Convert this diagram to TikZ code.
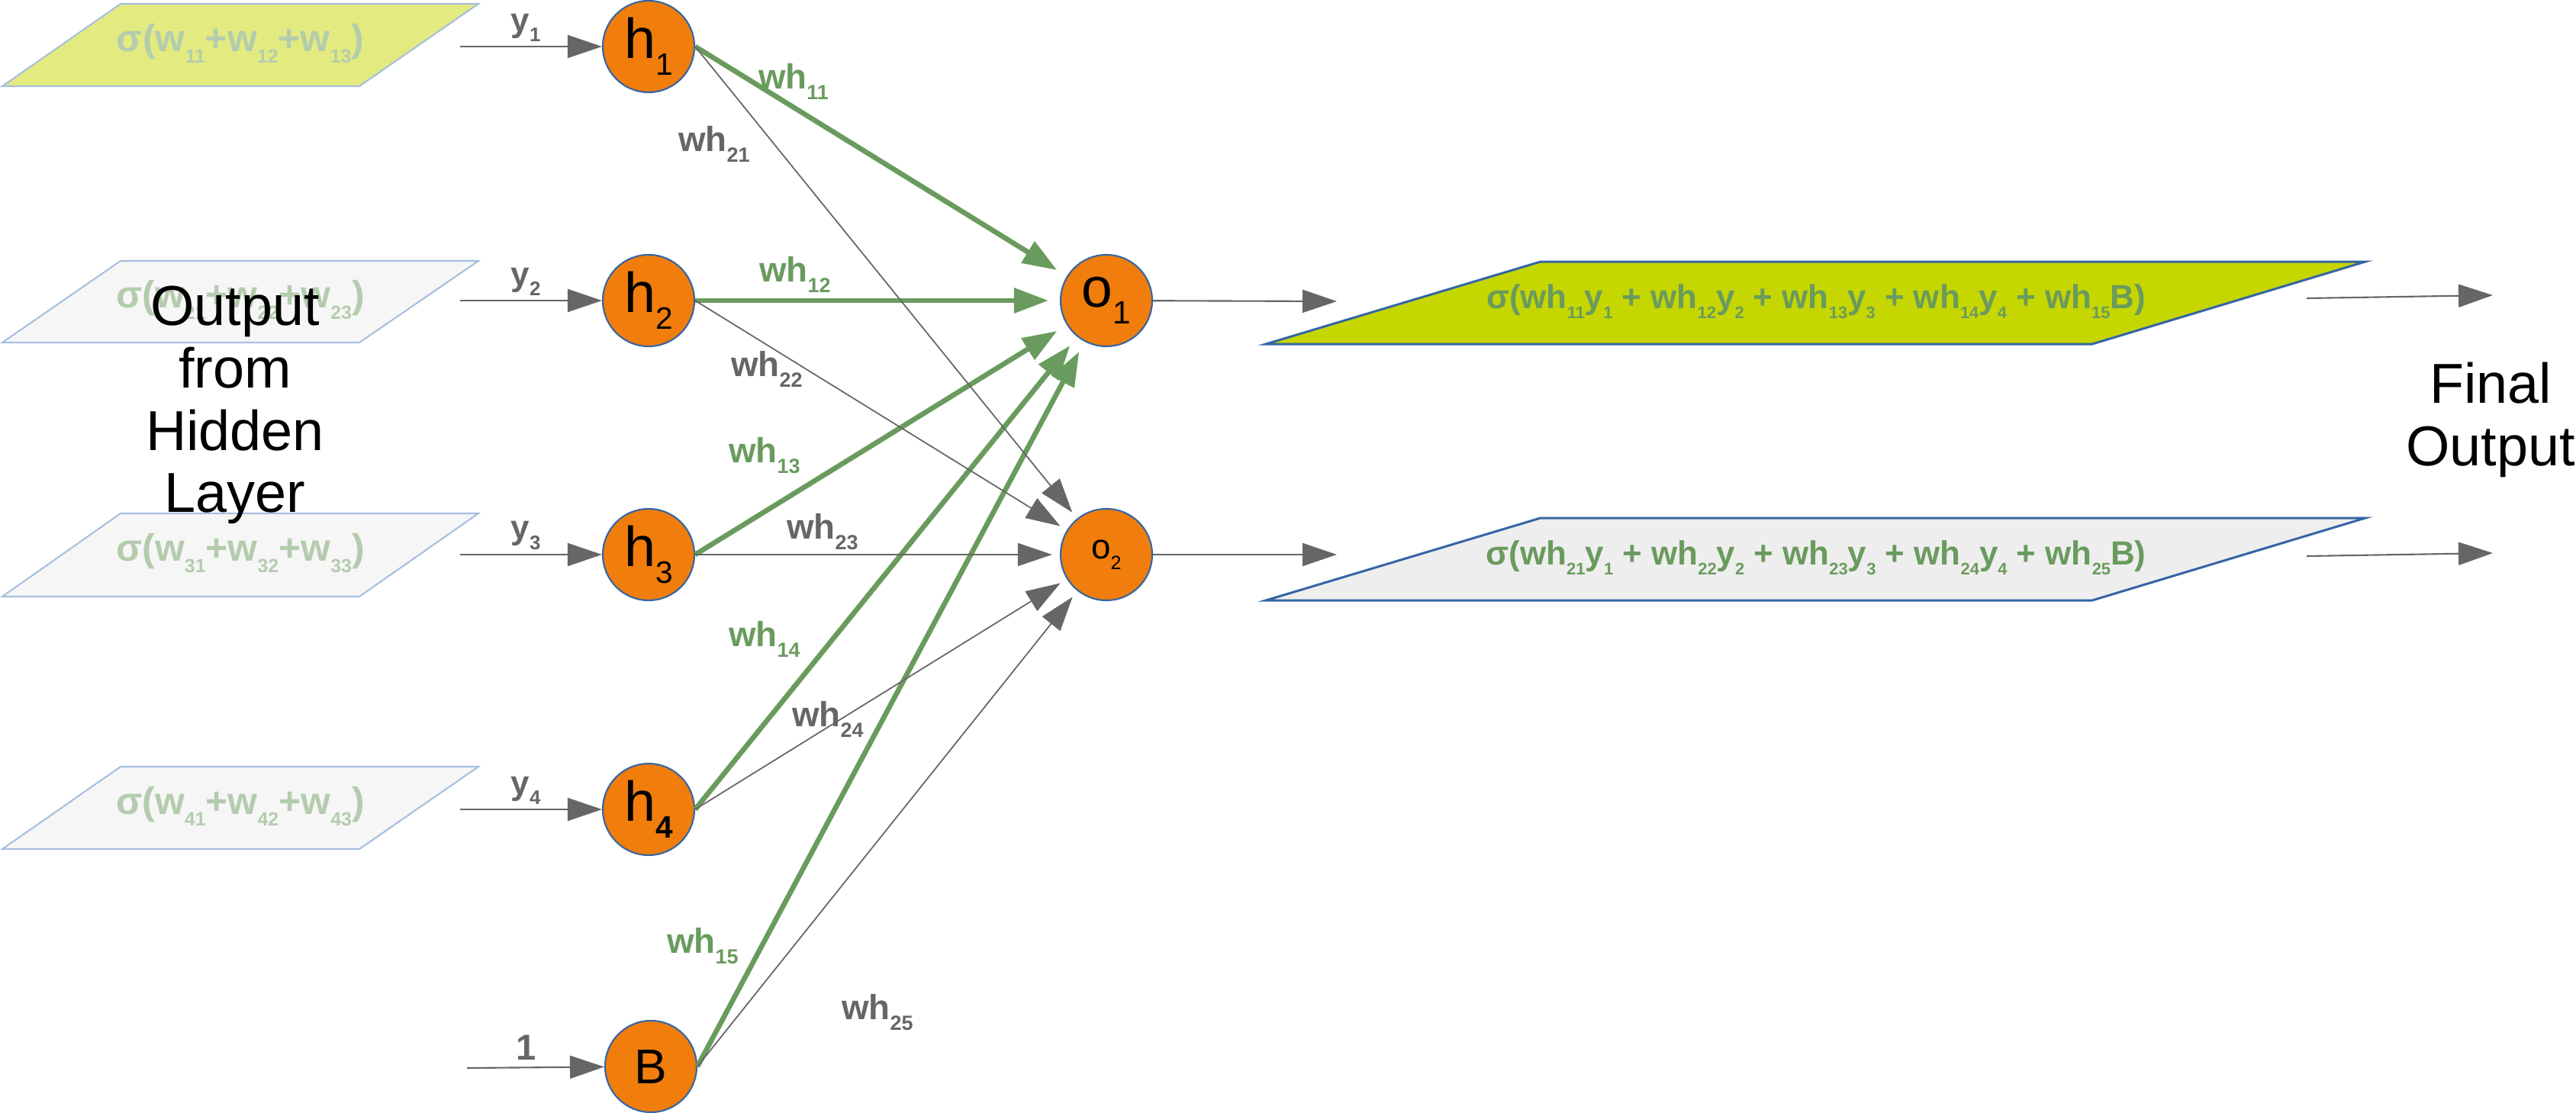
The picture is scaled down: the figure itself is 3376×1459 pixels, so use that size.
\documentclass[tikz,border=0pt]{standalone}
\usepackage{fontspec}
\setmainfont{Liberation Sans}
\usepackage{tikz}
\usepackage{xcolor}
\usetikzlibrary{arrows.meta}

\definecolor{nodeorange}{HTML}{F07D0C}
\definecolor{nodeblue}{HTML}{3465A4}
\definecolor{wgreen}{HTML}{6A9B5E}
\definecolor{wgray}{HTML}{666666}
\definecolor{fadegreen}{HTML}{B4CCAE}
\definecolor{paraline}{HTML}{A7C0DE}
\definecolor{parafill}{HTML}{F6F6F6}
\definecolor{yellowfill}{HTML}{E3EA80}
\definecolor{limefill}{HTML}{C5D600}
\definecolor{greyfill}{HTML}{EEEEEE}

\newcommand{\lsub}[2][0.55]{\raisebox{-0.3em}{\scalebox{#1}{#2}}}

\begin{document}
\begin{tikzpicture}[x=0.1mm, y=-0.1mm,
		neuron/.style={circle, draw=nodeblue, line width=0.6pt, fill=nodeorange, minimum size=12mm, inner sep=0pt},
		heavy/.style={wgreen, line width=1.9pt, -{Triangle[length=4.5mm, width=3.2mm]}, shorten >=1.5mm},
		light/.style={wgray, line width=0.5pt, -{Triangle[length=4.5mm, width=3mm]}, shorten >=1mm},
		inarrow/.style={wgray, line width=0.6pt, -{Triangle[length=4.5mm, width=3mm]}},
		lpara/.style={draw=paraline, line width=0.6pt},
		rpara/.style={draw=nodeblue, line width=0.85pt},
		bigtext/.style={align=center, font=\fontsize{21}{23.3}\selectfont, inner sep=0pt},
		wlabel/.style={font=\fontsize{13}{15}\selectfont\bfseries, inner sep=0pt},
		ylabel/.style={font=\fontsize{12.5}{14}\selectfont\bfseries, text=wgray, inner sep=0pt}]
	\useasboundingbox (0,0) rectangle (3376,1459);

	% outputs from the hidden layer
	\draw[lpara, fill=yellowfill] (158,5) -- (627,5) -- (471,113) -- (3,113) -- cycle;
	\draw[lpara, fill=parafill] (158,342) -- (627,342) -- (471,449) -- (3,449) -- cycle;
	\draw[lpara, fill=parafill] (158,673) -- (627,673) -- (471,782) -- (3,782) -- cycle;
	\draw[lpara, fill=parafill] (158,1005) -- (627,1005) -- (471,1113) -- (3,1113) -- cycle;
	\node[wlabel, font=\fontsize{14.2}{16}\selectfont\bfseries, text=fadegreen] (s1) at (315,57) {σ(w\lsub[0.5]{11}+w\lsub[0.5]{12}+w\lsub[0.5]{13})};
	\node[wlabel, font=\fontsize{14.2}{16}\selectfont\bfseries, text=fadegreen] (s2) at (315,393) {σ(w\lsub[0.5]{21}+w\lsub[0.5]{22}+w\lsub[0.5]{23})};
	\node[wlabel, font=\fontsize{14.2}{16}\selectfont\bfseries, text=fadegreen] (s3) at (315,725) {σ(w\lsub[0.5]{31}+w\lsub[0.5]{32}+w\lsub[0.5]{33})};
	\node[wlabel, font=\fontsize{14.2}{16}\selectfont\bfseries, text=fadegreen] (s4) at (315,1057) {σ(w\lsub[0.5]{41}+w\lsub[0.5]{42}+w\lsub[0.5]{43})};
	\node[bigtext] (hidlabel) at (308,531) {Output\\from\\Hidden\\Layer};

	% final outputs
	\draw[rpara, fill=limefill] (2019,343) -- (3100,343) -- (2742,451) -- (1659,451) -- cycle;
	\draw[rpara, fill=greyfill] (2019,679) -- (3100,679) -- (2742,787) -- (1659,787) -- cycle;
	\node[wlabel, font=\fontsize{12.5}{14}\selectfont\bfseries, text=wgreen] (f1) at (2380,395) {σ(wh\lsub[0.5]{11}y\lsub[0.5]{1} + wh\lsub[0.5]{12}y\lsub[0.5]{2} + wh\lsub[0.5]{13}y\lsub[0.5]{3} + wh\lsub[0.5]{14}y\lsub[0.5]{4} + wh\lsub[0.5]{15}B)};
	\node[wlabel, font=\fontsize{12.5}{14}\selectfont\bfseries, text=wgreen] (f2) at (2380,731) {σ(wh\lsub[0.5]{21}y\lsub[0.5]{1} + wh\lsub[0.5]{22}y\lsub[0.5]{2} + wh\lsub[0.5]{23}y\lsub[0.5]{3} + wh\lsub[0.5]{24}y\lsub[0.5]{4} + wh\lsub[0.5]{25}B)};
	\node[bigtext] (finlabel) at (3264,550) {Final\\Output};

	% neurons
	\node[neuron, font=\fontsize{21}{24}\selectfont] (h1) at (850,61) {h\lsub{1}};
	\node[neuron, font=\fontsize{21}{24}\selectfont] (h2) at (850,394) {h\lsub{2}};
	\node[neuron, font=\fontsize{21}{24}\selectfont] (h3) at (850,727) {h\lsub{3}};
	\node[neuron, font=\fontsize{21}{24}\selectfont] (h4) at (850,1061) {h\lsub{\textbf{4}}};
	\node[neuron, font=\fontsize{18.2}{20}\selectfont] (b) at (853,1398) {B};
	\node[neuron, font=\fontsize{20.8}{24}\selectfont] (o1) at (1450,394) {o\lsub[0.58]{1}};
	\node[neuron, font=\fontsize{13}{15}\selectfont] (o2) at (1450,727) {o\lsub[0.55]{2}};

	% inputs
	\coordinate (in1) at (603,61);
	\coordinate (in2) at (603,394);
	\coordinate (in3) at (603,727);
	\coordinate (in4) at (603,1061);
	\coordinate (inb) at (612,1400);
	\draw[inarrow] (in1) -- (h1);
	\draw[inarrow] (in2) -- (h2);
	\draw[inarrow] (in3) -- (h3);
	\draw[inarrow] (in4) -- (h4);
	\draw[inarrow] (inb) -- (b);
	\node[ylabel] (y1) at (689,36) {y\lsub[0.59]{1}};
	\node[ylabel] (y2) at (689,369) {y\lsub[0.59]{2}};
	\node[ylabel] (y3) at (689,702) {y\lsub[0.59]{3}};
	\node[ylabel] (y4) at (689,1036) {y\lsub[0.59]{4}};
	\node[ylabel, font=\fontsize{13.4}{15}\selectfont\bfseries] (one) at (690,1373) {1};

	% weights into o1
	\draw[heavy] (h1.east) -- (o1);
	\draw[heavy] (h2.east) -- (o1);
	\draw[heavy] (h3.east) -- (o1);
	\draw[heavy] (h4.east) -- (o1);
	\draw[heavy] (b.east) -- (o1);
	% weights into o2
	\draw[light] (h1.east) -- (o2);
	\draw[light] (h2.east) -- (o2);
	\draw[light] (h3.east) -- (o2);
	\draw[light] (h4.east) -- (o2);
	\draw[light] (b.east) -- (o2);

	\node[wlabel, text=wgreen] (l11) at (1040,107) {wh\lsub[0.59]{11}};
	\node[wlabel, text=wgreen] (l12) at (1042,360) {wh\lsub[0.59]{12}};
	\node[wlabel, text=wgreen] (l13) at (1002,597) {wh\lsub[0.59]{13}};
	\node[wlabel, text=wgreen] (l14) at (1002,838) {wh\lsub[0.59]{14}};
	\node[wlabel, text=wgreen] (l15) at (921,1240) {wh\lsub[0.59]{15}};
	\node[wlabel, text=wgray] (l21) at (936,189) {wh\lsub[0.59]{21}};
	\node[wlabel, text=wgray] (l22) at (1005,484) {wh\lsub[0.59]{22}};
	\node[wlabel, text=wgray] (l23) at (1078,697) {wh\lsub[0.59]{23}};
	\node[wlabel, text=wgray] (l24) at (1085,943) {wh\lsub[0.59]{24}};
	\node[wlabel, text=wgray] (l25) at (1150,1327) {wh\lsub[0.59]{25}};

	% outputs
	\coordinate (out1) at (1752,395);
	\coordinate (out2) at (1752,727);
	\draw[inarrow] (o1) -- (out1);
	\draw[inarrow] (o2) -- (out2);
	\coordinate (fin1a) at (3023,391);
	\coordinate (fin1b) at (3267,387);
	\coordinate (fin2a) at (3023,729);
	\coordinate (fin2b) at (3267,725);
	\draw[inarrow] (fin1a) -- (fin1b);
	\draw[inarrow] (fin2a) -- (fin2b);
\end{tikzpicture}
\end{document}
